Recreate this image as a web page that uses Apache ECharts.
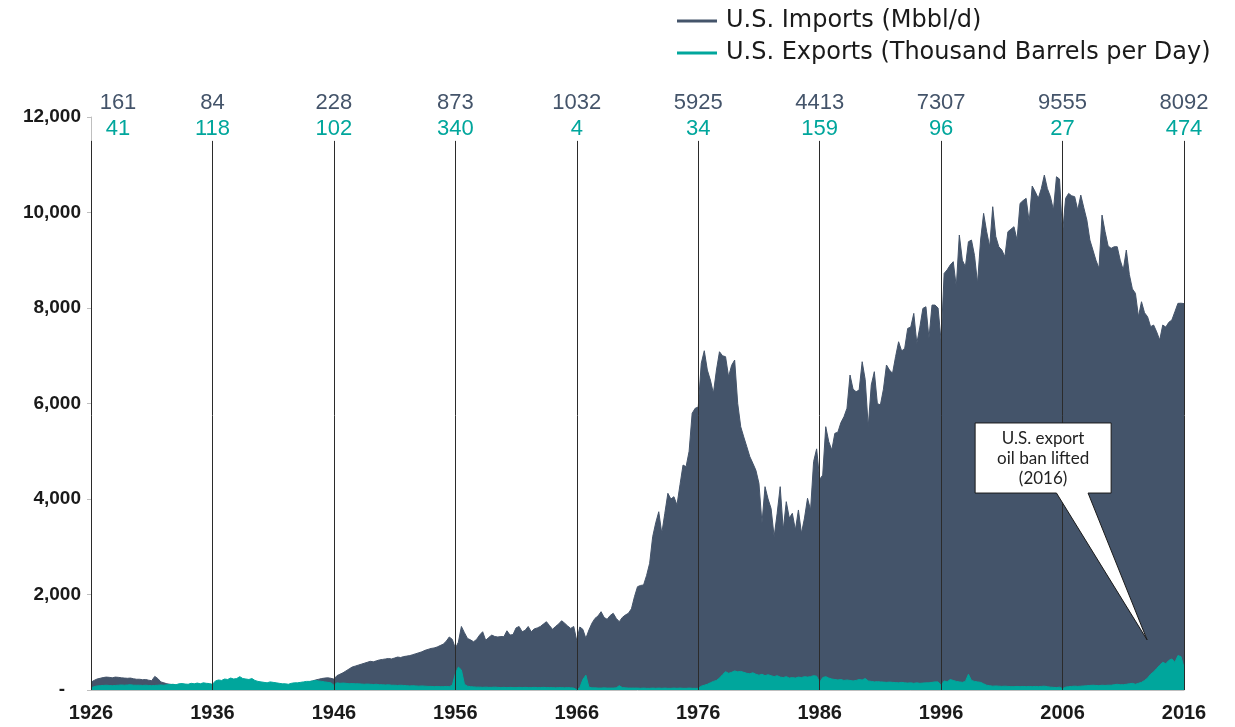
<!DOCTYPE html>
<html>
<head>
<meta charset="utf-8">
<title>U.S. Crude Oil Imports and Exports</title>
<script src="https://cdn.jsdelivr.net/npm/echarts@6/dist/echarts.min.js"></script>
<style>
  html, body { margin: 0; padding: 0; background: #ffffff; }
  #chart { width: 1235px; height: 727px; }
</style>
</head>
<body>
<div id="chart"></div>
<script>
// Quarterly values (Jan, Apr, Jul, Oct) for each decade, thousand barrels per day.
const startYear = 1926;
const decadeYears = [1926, 1936, 1946, 1956, 1966, 1976, 1986, 1996, 2006, 2016];

const imports1926 = [161,200,230,245, 260,270,265,255, 270,265,255,250, 245,250,235,225, 225,215,220,205,
                     195,285,240,170, 150,130,120,110, 100,95,105,100, 95,100,95,90, 95,100,90,88];
const imports1936 = [84,95,100,95, 100,105,95,90, 85,90,95,90, 95,100,95,90, 85,90,85,80,
                     85,90,80,75, 70,75,80,85, 95,110,130,150, 170,190,210,225, 240,250,255,245];
const imports1946 = [228,300,330,360, 400,440,480,500, 520,540,560,580, 600,590,610,630, 640,650,660,650,
                     670,690,680,700, 710,720,740,760, 780,800,830,850, 870,880,900,930, 960,1020,1110,1060];
const imports1956 = [873,1000,1330,1200, 1080,1050,1010,1060, 1150,1220,1040,1100, 1150,1120,1110,1120, 1117,1240,1150,1160,
                     1300,1330,1220,1250, 1330,1220,1280,1300, 1330,1380,1430,1350, 1270,1330,1380,1450, 1400,1340,1290,1330];
const imports1966 = [1032,1320,1270,1082, 1256,1400,1500,1550, 1640,1520,1480,1560, 1606,1500,1431,1520, 1570,1606,1700,1954,
                     2163,2190,2199,2400, 2653,3210,3500,3733, 3281,3700,4119,4000, 4048,3874,4300,4712, 4676,5000,5794,5900];
const imports1976 = [5925,6841,7105,6700, 6491,6213,6700,7084, 7000,6980,6561,6800, 6910,6003,5514,5300, 5095,4886,4747,4600,
                     4328,3491,4258,4000, 3800,3210,3700,4258, 3351,3944,3600,3700, 3351,3770,3281,3600, 4015,3770,4782,5050];
const imports1986 = [4413,4500,5514,5200, 5026,5375,5400,5600, 5723,5900,6596,6300, 6247,6282,6875,6500, 5514,6387,6666,6000,
                     5968,6300,6806,6700, 6631,6980,7293,7100, 7154,7573,7600,7887, 7259,7600,7992,8026, 7364,8061,8061,8000];
const imports1996 = [7307,8725,8800,8900, 8970,8446,9528,9000, 8865,9388,9423,9100, 8516,9423,9982,9600, 9283,10121,9500,9283,
                     9214,9074,9597,9650, 9702,9423,10191,10250, 10296,9806,10554,10435, 10296,10500,10784,10500, 10331,10051,10749,10700];
const imports2006 = [9555,10296,10400,10350, 10331,10051,10365,10100, 9842,9423,9214,9000, 8830,9946,9600,9300, 9249,9283,9283,9000,
                     8795,9214,8700,8400, 8307,7817,8131,7900, 7817,7608,7643,7500, 7329,7643,7600,7700, 7748,7922,8097,8100];
const imports2016 = [8092];

const exports1926 = [41,70,85,90, 95,100,95,90, 95,100,105,100, 105,110,100,100, 100,95,100,95,
                     90,95,100,105, 100,110,115,120, 110,130,135,125, 120,140,130,145, 130,150,140,135];
const exports1936 = [118,190,210,200, 230,220,250,230, 240,280,240,230, 220,240,200,180, 170,160,150,170,
                     160,150,140,130, 130,120,140,150, 150,160,170,180, 180,190,200,190, 180,170,160,150];
const exports1946 = [102,150,140,145, 140,130,135,130, 130,125,120,125, 120,115,120,110, 110,105,110,100,
                     100,95,100,95, 90,85,90,85, 80,85,80,75, 75,70,75,70, 70,75,70,100];
const exports1956 = [340,480,420,120, 80,70,65,60, 60,55,60,55, 55,60,55,50, 55,50,55,50,
                     50,55,50,55, 50,50,55,50, 50,55,50,50, 50,45,50,50, 45,50,45,40];
const exports1966 = [4,50,220,310, 60,45,45,40, 40,45,40,40, 40,45,90,50, 45,40,40,40,
                     40,35,40,35, 35,40,35,40, 35,40,35,35, 40,35,40,35, 35,40,35,35];
const exports1976 = [34,80,100,120, 150,180,200,250, 320,383,350,370, 400,380,390,370, 350,340,360,330,
                     310,330,300,320, 300,280,300,270, 260,280,250,260, 250,270,260,280, 270,280,300,290];
const exports1986 = [159,260,280,250, 230,220,210,220, 200,210,200,190, 200,220,210,240, 190,180,170,175,
                     170,165,160,165, 160,155,150,160, 150,145,150,140, 150,140,145,150, 150,160,170,170];
const exports1996 = [96,190,170,220, 200,180,170,160, 180,330,200,180, 170,160,130,100, 90,80,85,80,
                     75,80,75,70, 70,75,70,75, 70,75,70,75, 70,75,80,70, 60,55,50,60];
const exports2006 = [27,60,70,75, 80,75,80,85, 90,95,100,95, 90,100,95,100, 100,110,120,110,
                     110,120,130,140, 120,140,160,200, 250,330,380,450, 520,580,550,620, 650,580,720,700];
const exports2016 = [474];

const importDecades = [imports1926, imports1936, imports1946, imports1956, imports1966,
                       imports1976, imports1986, imports1996, imports2006, imports2016];
const exportDecades = [exports1926, exports1936, exports1946, exports1956, exports1966,
                       exports1976, exports1986, exports1996, exports2006, exports2016];

const IMPORT_COLOR = '#44546a';
const EXPORT_COLOR = '#00a69c';
const TEXT_COLOR = '#1a1a1a';

// x is measured in years since the first decade mark, so axis ticks fall on the decade marks.
function toSeries(decades) {
  const out = [];
  decades.forEach((vals, d) => {
    vals.forEach((v, q) => out.push([d * 10 + q / 4, v]));
  });
  return out;
}
const importData = toSeries(importDecades);
const exportData = toSeries(exportDecades);

// Value at each decade mark, shown above the vertical reference lines.
const importAtDecade = importDecades.map(a => a[0]);
const exportAtDecade = exportDecades.map(a => a[0]);

const chart = echarts.init(document.getElementById('chart'), null, { renderer: 'canvas' });

const refLines = decadeYears.map((yr, i) => [
  {
    coord: [yr - startYear, 0],
    label: {
      formatter: '{a|' + importAtDecade[i] + '}\n{b|' + exportAtDecade[i] + '}',
      offset: i === 0 ? [27, 0] : [0, 0]
    }
  },
  { coord: [yr - startYear, 11500] }
]);

chart.setOption({
  backgroundColor: '#ffffff',
  animation: false,
  grid: { left: 91, right: 51, top: 117, bottom: 37, containLabel: false },
  legend: {
    orient: 'vertical',
    left: 672,
    top: 4,
    itemGap: 8,
    itemWidth: 40,
    itemHeight: 3,
    icon: 'rect',
    textStyle: { fontSize: 24, color: TEXT_COLOR, fontFamily: 'DejaVu Sans', padding: [0, 0, 0, 4] },
    data: ['U.S. Imports (Mbbl/d)', 'U.S. Exports (Thousand Barrels per Day)']
  },
  xAxis: {
    type: 'value',
    min: 0,
    max: 90,
    interval: 10,
    axisLine: { show: true, lineStyle: { color: '#bfbfbf', width: 1 } },
    axisTick: { show: false },
    splitLine: { show: false },
    axisLabel: {
      formatter: v => String(v + startYear),
      fontSize: 20,
      fontWeight: 'bold',
      color: TEXT_COLOR,
      fontFamily: 'Liberation Sans',
      margin: 13
    }
  },
  yAxis: {
    type: 'value',
    min: 0,
    max: 12000,
    interval: 2000,
    axisLine: { show: true, lineStyle: { color: '#bfbfbf', width: 1 } },
    axisTick: { show: true, length: 4, lineStyle: { color: '#bfbfbf' } },
    splitLine: { show: false },
    axisLabel: {
      formatter: v => v === 0 ? '-   ' : v.toLocaleString('en-US'),
      fontSize: 19,
      fontWeight: 'bold',
      color: TEXT_COLOR,
      fontFamily: 'Liberation Sans',
      margin: 10
    }
  },
  series: [
    {
      name: 'U.S. Imports (Mbbl/d)',
      type: 'line',
      data: importData,
      showSymbol: false,
      symbol: 'none',
      lineStyle: { color: IMPORT_COLOR, width: 1 },
      itemStyle: { color: IMPORT_COLOR },
      areaStyle: { color: IMPORT_COLOR, opacity: 1 },
      z: 2
    },
    {
      name: 'U.S. Exports (Thousand Barrels per Day)',
      type: 'line',
      data: exportData,
      showSymbol: false,
      symbol: 'none',
      lineStyle: { color: EXPORT_COLOR, width: 1 },
      itemStyle: { color: EXPORT_COLOR },
      areaStyle: { color: EXPORT_COLOR, opacity: 1 },
      z: 3,
      markLine: {
        silent: true,
        z: 5,
        symbol: ['none', 'none'],
        lineStyle: { color: '#2b2b2b', width: 1, type: 'solid' },
        label: {
          show: true,
          position: 'end',
          distance: -1,
          rich: {
            a: { color: IMPORT_COLOR, fontSize: 22, lineHeight: 26, fontFamily: 'Liberation Sans', align: 'center' },
            b: { color: EXPORT_COLOR, fontSize: 22, lineHeight: 26, fontFamily: 'Liberation Sans', align: 'center' }
          }
        },
        emphasis: { disabled: true },
        data: refLines
      }
    }
  ]
});

// Callout pointing at the rise in exports after the ban was lifted.
function px(year, value) {
  return chart.convertToPixel({ gridIndex: 0 }, [year - startYear, value]);
}
const boxTL = px(1998.8, 5592);
const boxBR = px(2010.0, 4125);
const tailL = px(2005.5, 4125);
const tailR = px(2008.1, 4125);
const tip = px(2012.96, 1050);

chart.setOption({
  graphic: [
    {
      type: 'polygon',
      z: 100,
      shape: {
        points: [
          [boxTL[0], boxTL[1]], [boxBR[0], boxTL[1]], [boxBR[0], boxBR[1]],
          [tailR[0], tailR[1]], [tip[0], tip[1]], [tailL[0], tailL[1]],
          [boxTL[0], boxBR[1]]
        ]
      },
      style: { fill: '#ffffff', stroke: '#1a1a1a', lineWidth: 1 }
    },
    {
      type: 'text',
      z: 101,
      x: (boxTL[0] + boxBR[0]) / 2,
      y: (boxTL[1] + boxBR[1]) / 2 + 1,
      style: {
        text: 'U.S. export\noil ban lifted\n(2016)',
        fill: '#222222',
        font: '17px Lato',
        align: 'center',
        verticalAlign: 'middle',
        lineHeight: 20
      }
    }
  ]
});
</script>
</body>
</html>
